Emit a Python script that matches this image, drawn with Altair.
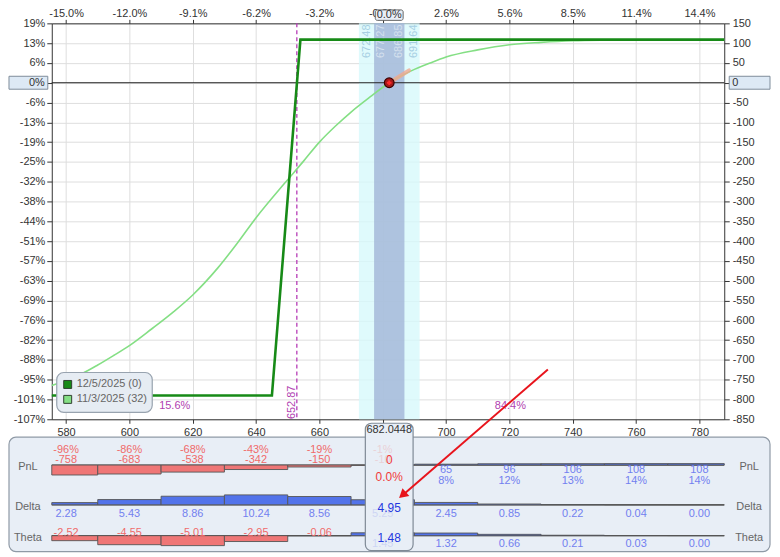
import altair as alt
import pandas as pd

# ---------------- chart values ----------------
spot = 682.0448
x_domain = [575.48, 787.85]
y_domain = [-850, 150]

x_ticks = [580, 600, 620, 640, 660, 680, 700, 720, 740, 760, 780]
bottom_labels = ["580", "600", "620", "640", "660", "680", "700", "720", "740", "760", "780"]
top_labels = ["-15.0%", "-12.0%", "-9.1%", "-6.2%", "-3.2%", "-0.3%",
              "2.6%", "5.6%", "8.5%", "11.4%", "14.4%"]
y_ticks = [150, 100, 50, 0, -50, -100, -150, -200, -250, -300, -350, -400,
           -450, -500, -550, -600, -650, -700, -750, -800, -850]
left_labels = ["19%", "13%", "6%", "0%", "-6%", "-13%", "-19%", "-25%", "-32%",
               "-38%", "-44%", "-51%", "-57%", "-63%", "-69%", "-76%", "-82%",
               "-88%", "-95%", "-101%", "-107%"]
right_labels = ["150", "100", "50", "0", "-50", "-100", "-150", "-200", "-250",
                "-300", "-350", "-400", "-450", "-500", "-550", "-600", "-650",
                "-700", "-750", "-800", "-850"]

series_names = ["12/5/2025 (0)", "11/3/2025 (32)"]
series_colors = ["#178a17", "#84df84"]

# expiration P&L (12/5/2025)
exp_price = [575.48, 645.0, 654.0, 787.85]
exp_pnl = [-790, -790, 109, 109]

# today's P&L (11/3/2025)
t0_price = [575.48, 580, 585, 590, 595, 600, 607, 614, 620, 628, 634, 640, 649,
            655, 660, 665, 670, 676, 682.0448, 689, 695, 700, 710, 720, 730,
            740, 750, 760, 770, 787.85]
t0_pnl = [-765, -752, -735, -713, -689, -664, -622, -578, -536, -467, -406, -341,
          -254, -198, -150, -110, -74, -36, 0, 30, 50, 65, 83, 96, 102, 106,
          107.5, 108, 108.5, 108.6]

# delta tangent at the current price
tan_price = [682.0448, 688.3]
tan_pnl = [0, 31]

# standard-deviation bands
sd_outer = [672.48, 691.64]
sd_inner = [677.27, 686.85]
sd_label_price = [672.48, 677.27, 686.85, 691.64]
sd_label_text = ["672.48", "677.27", "686.85", "691.64"]

breakeven = 652.87
breakeven_text = "652.87"
prob_price = [614.3, 720.3]
prob_text = ["15.6%", "84.4%"]

# bottom table
col_price = [580, 600, 620, 640, 660, 680, 700, 720, 740, 760, 780]
col_pnl = [-758, -683, -538, -342, -150, -10, 65, 96, 106, 108, 108]
col_pnl_pct = ["-96%", "-86%", "-68%", "-43%", "-19%", "-1%", "8%", "12%", "13%", "14%", "14%"]
col_delta = [2.28, 5.43, 8.86, 10.24, 8.56, 5.25, 2.45, 0.85, 0.22, 0.04, 0.00]
col_theta = [-2.52, -4.55, -5.01, -2.95, -0.06, 1.45, 1.32, 0.66, 0.21, 0.03, 0.00]
cur_pnl = "0"
cur_pnl_pct = "0.0%"
cur_delta = "4.95"
cur_theta = "1.48"
spot_text = "682.0448"
row_names = ["PnL", "Delta", "Theta"]

# ---------------- layout / style ----------------
FONT = "Liberation Sans"
W, H = 676, 398
XS = alt.Scale(domain=x_domain, nice=False, zero=False)
YS = alt.Scale(domain=y_domain, nice=False, zero=False)
RED_BAR, BLUE_BAR = "#ef7676", "#5273ea"
RED_TXT, BLUE_TXT = "#f06a6a", "#7280f0"
PANEL_FILL = "#e8eef6"
row_base = {"PnL": 444, "Delta": 484, "Theta": 515}
BAR_PX = 10
LEG = {"x0": 5, "x1": 101, "y0": 351, "y1": 391, "sym_x": 16, "txt_x": 25, "row_y": [363, 378]}


def arr_expr(labels, first, step, hide=None):
    arr = "[" + ",".join("'%s'" % s for s in labels) + "]"
    e = "%s[round((datum.value - (%s)) / (%s))]" % (arr, first, step)
    if hide is not None:
        e = "datum.value == %s ? '' : %s" % (hide, e)
    return e


common = dict(labelFont=FONT, labelFontSize=11, labelColor="#333",
              domainColor="#333", tickColor="#333", title=None)
# the 680 label sits under the spot-price tab, as in the original
ax_bottom = alt.Axis(orient="bottom", values=x_ticks,
                     labelExpr=arr_expr(bottom_labels, 580, 20, hide=680),
                     grid=True, gridColor="#dedede", tickSize=4, labelPadding=3, **common)
ax_top = alt.Axis(orient="top", values=x_ticks, labelExpr=arr_expr(top_labels, 580, 20),
                  grid=False, tickSize=4, labelPadding=1, **common)
ax_left = alt.Axis(orient="left", values=y_ticks, labelExpr=arr_expr(left_labels, 150, -50),
                   grid=True, gridColor="#dedede", tickSize=5, labelPadding=2, **common)
ax_right = alt.Axis(orient="right", values=y_ticks, labelExpr=arr_expr(right_labels, 150, -50),
                    grid=False, tickSize=5, labelPadding=3, **common)

layers = []

# bands (carry the four axes)
layers.append(alt.Chart(pd.DataFrame({"x0": [sd_outer[0]], "x1": [sd_outer[1]],
                                      "y0": [y_domain[1]], "y1": [y_domain[0]]}))
              .mark_rect(color="#d6f8fb", opacity=0.78)
              .encode(x=alt.X("x0:Q", scale=XS, axis=ax_bottom), x2="x1:Q",
                      y=alt.Y("y0:Q", scale=YS, axis=ax_left), y2="y1:Q"))
layers.append(alt.Chart(pd.DataFrame({"x0": [sd_inner[0]], "x1": [sd_inner[1]],
                                      "y0": [y_domain[1]], "y1": [y_domain[0]]}))
              .mark_rect(color="#a0b4d6", opacity=0.78)
              .encode(x=alt.X("x0:Q", scale=XS, axis=ax_top), x2="x1:Q",
                      y=alt.Y("y0:Q", scale=YS, axis=ax_right), y2="y1:Q"))

# band labels (rotated; dy shifts sideways on screen)
band_lab = pd.DataFrame({"x": sd_label_price, "t": sd_label_text,
                         "dy": [8, 7, -5, -6],
                         "c": ["#a6cfe3", "#d5e1ee", "#d5e1ee", "#a6cfe3"]})
for i in range(4):
    layers.append(alt.Chart(band_lab.iloc[[i]]).mark_text(
        angle=270, font=FONT, fontSize=11, align="center", baseline="middle",
        dy=int(band_lab.dy[i]), color=band_lab.c[i])
        .encode(x=alt.X("x:Q", scale=XS, axis=None), y=alt.value(18), text="t:N"))

# zero line
layers.append(alt.Chart(pd.DataFrame({"y": [0]})).mark_rule(color="#222", strokeWidth=1)
              .encode(y=alt.Y("y:Q", scale=YS, axis=None)))

# breakeven
layers.append(alt.Chart(pd.DataFrame({"x": [breakeven]}))
              .mark_rule(color="#b63cb6", strokeDash=[4, 3], strokeWidth=1.3)
              .encode(x=alt.X("x:Q", scale=XS, axis=None)))
layers.append(alt.Chart(pd.DataFrame({"x": [breakeven], "t": [breakeven_text]}))
              .mark_text(angle=270, font=FONT, fontSize=11, color="#b040b0", dy=-5,
                         align="center", baseline="middle")
              .encode(x=alt.X("x:Q", scale=XS, axis=None), y=alt.value(381), text="t:N"))
layers.append(alt.Chart(pd.DataFrame({"x": prob_price, "t": prob_text}))
              .mark_text(font=FONT, fontSize=11, color="#b040b0")
              .encode(x=alt.X("x:Q", scale=XS, axis=None), y=alt.value(385), text="t:N"))

# P&L lines
color_scale = alt.Scale(domain=series_names, range=series_colors)
t0_df = pd.DataFrame({"price": t0_price, "pnl": t0_pnl, "series": series_names[1]})
exp_df = pd.DataFrame({"price": exp_price, "pnl": exp_pnl, "series": series_names[0]})
layers.append(alt.Chart(t0_df).mark_line(strokeWidth=1.6, interpolate="monotone")
              .encode(x=alt.X("price:Q", scale=XS, axis=None),
                      y=alt.Y("pnl:Q", scale=YS, axis=None),
                      color=alt.Color("series:N", scale=color_scale, legend=None)))
layers.append(alt.Chart(exp_df).mark_line(strokeWidth=2.6)
              .encode(x=alt.X("price:Q", scale=XS, axis=None),
                      y=alt.Y("pnl:Q", scale=YS, axis=None),
                      color=alt.Color("series:N", scale=color_scale, legend=None)))

# tangent + current point
layers.append(alt.Chart(pd.DataFrame({"price": tan_price, "pnl": tan_pnl}))
              .mark_line(color="#f0a890", strokeWidth=4, opacity=0.8, strokeCap="round")
              .encode(x=alt.X("price:Q", scale=XS, axis=None),
                      y=alt.Y("pnl:Q", scale=YS, axis=None)))
layers.append(alt.Chart(pd.DataFrame({"price": [spot], "pnl": [0]}))
              .mark_point(filled=True, size=95, color="#a51818", stroke="#3a0000",
                          strokeWidth=1.2, opacity=1)
              .encode(x=alt.X("price:Q", scale=XS, axis=None),
                      y=alt.Y("pnl:Q", scale=YS, axis=None)))
layers.append(alt.Chart(pd.DataFrame({"price": [spot], "pnl": [0]}))
              .mark_point(shape="cross", filled=True, size=22, color="#ff2a2a", opacity=1)
              .encode(x=alt.X("price:Q", scale=XS, axis=None),
                      y=alt.Y("pnl:Q", scale=YS, axis=None)))

# legend box (series names / colours from the arrays)
layers.append(alt.Chart(pd.DataFrame({"a": [0]}))
              .mark_rect(fill="#e6ecf3", stroke="#98a3af", strokeWidth=1.2, cornerRadius=7,
                         opacity=1)
              .encode(x=alt.value(LEG["x0"]), x2=alt.value(LEG["x1"]),
                      y=alt.value(LEG["y0"]), y2=alt.value(LEG["y1"])))
leg_df = pd.DataFrame({"series": series_names, "y": LEG["row_y"]})
layers.append(alt.Chart(leg_df).mark_square(size=64, filled=True, opacity=1,
                                            stroke="#2f3f2f", strokeWidth=1)
              .encode(x=alt.value(LEG["sym_x"]), y=alt.Y("y:Q", scale=None, axis=None),
                      color=alt.Color("series:N", scale=color_scale, legend=None)))
layers.append(alt.Chart(leg_df).mark_text(font=FONT, fontSize=11, color="#666",
                                          align="left", baseline="middle")
              .encode(x=alt.value(LEG["txt_x"]), y=alt.Y("y:Q", scale=None, axis=None),
                      text="series:N"))

# highlighted zero / spot labels on the axes
zero_df = pd.DataFrame({"y": [0]})
layers.append(alt.Chart(zero_df).mark_rect(fill="#dde9f5", stroke="#7e8c9a", strokeWidth=1,
                                          yOffset=-6.5, y2Offset=6.5)
              .encode(x=alt.value(-43), x2=alt.value(-4),
                      y=alt.Y("y:Q", scale=YS, axis=None), y2="y:Q"))
layers.append(alt.Chart(zero_df.assign(t=left_labels[3])).mark_text(
    font=FONT, fontSize=11, color="#333", align="right", baseline="middle")
    .encode(x=alt.value(-7), y=alt.Y("y:Q", scale=YS, axis=None), text="t:N"))
layers.append(alt.Chart(zero_df).mark_rect(fill="#dde9f5", stroke="#7e8c9a", strokeWidth=1,
                                          yOffset=-6.5, y2Offset=6.5)
              .encode(x=alt.value(681), x2=alt.value(722),
                      y=alt.Y("y:Q", scale=YS, axis=None), y2="y:Q"))
layers.append(alt.Chart(zero_df.assign(t=right_labels[3])).mark_text(
    font=FONT, fontSize=11, color="#333", align="left", baseline="middle")
    .encode(x=alt.value(684), y=alt.Y("y:Q", scale=YS, axis=None), text="t:N"))
spot_df = pd.DataFrame({"x": [spot]})
layers.append(alt.Chart(spot_df).mark_rect(fill="#e8eef6", stroke="#666", strokeWidth=1,
                                          cornerRadius=2, xOffset=-14, x2Offset=14)
              .encode(x=alt.X("x:Q", scale=XS, axis=None), x2="x:Q",
                      y=alt.value(-13.5), y2=alt.value(-3)))
layers.append(alt.Chart(spot_df.assign(t="0.0%")).mark_text(
    font=FONT, fontSize=11, color="#333", baseline="middle")
    .encode(x=alt.X("x:Q", scale=XS, axis=None), y=alt.value(-8.5), text="t:N"))

# ---------------- bottom panel ----------------
one = pd.DataFrame({"a": [0]})
layers.append(alt.Chart(one).mark_rect(fill=PANEL_FILL, stroke="#8f9aa6", strokeWidth=1.2,
                                      cornerRadius=7)
              .encode(x=alt.value(-43), x2=alt.value(722), y=alt.value(416), y2=alt.value(531)))

base_df = pd.DataFrame({"x0": [x_domain[0]] * 3, "x1": [x_domain[1]] * 3,
                        "yb": [row_base[r] for r in row_names]})
layers.append(alt.Chart(base_df).mark_rule(color="#555", strokeWidth=1.3)
              .encode(x=alt.X("x0:Q", scale=XS, axis=None), x2="x1:Q",
                      y=alt.Y("yb:Q", scale=None, axis=None)))

bar_rows = []
row_vals = {"PnL": col_pnl, "Delta": col_delta, "Theta": col_theta}
for r in row_names:
    vals = row_vals[r]
    vmax = max(abs(v) for v in vals)
    for p, v in zip(col_price, vals):
        bar_rows.append({"x0": max(p - 10, x_domain[0]), "x1": min(p + 10, x_domain[1]),
                         "v": v, "yb": row_base[r], "yt": row_base[r] - v / vmax * BAR_PX})
bars = pd.DataFrame(bar_rows)
layers.append(alt.Chart(bars).mark_rect(stroke="#555", strokeWidth=0.9)
              .encode(x=alt.X("x0:Q", scale=XS, axis=None), x2="x1:Q",
                      y=alt.Y("yt:Q", scale=None, axis=None), y2="yb:Q",
                      fill=alt.condition("datum.v < 0", alt.value(RED_BAR), alt.value(BLUE_BAR))))

lab_rows = []
for i, p in enumerate(col_price):
    v = col_pnl[i]
    b = row_base["PnL"]
    c = RED_TXT if v < 0 else BLUE_TXT
    if v < 0:
        lab_rows.append({"x": p, "y": b - 15, "t": col_pnl_pct[i], "c": c, "cur": p == 680})
        lab_rows.append({"x": p, "y": b - 5, "t": str(v), "c": c, "cur": p == 680})
    else:
        lab_rows.append({"x": p, "y": b + 5, "t": str(v), "c": c, "cur": p == 680})
        lab_rows.append({"x": p, "y": b + 16, "t": col_pnl_pct[i], "c": c, "cur": p == 680})
    d = col_delta[i]
    lab_rows.append({"x": p, "y": row_base["Delta"] + 9, "t": "%.2f" % d,
                     "c": RED_TXT if d < 0 else BLUE_TXT, "cur": p == 680})
    th = col_theta[i]
    lab_rows.append({"x": p, "y": row_base["Theta"] + (-3 if th < 0 else 8), "t": "%.2f" % th,
                     "c": RED_TXT if th < 0 else BLUE_TXT, "cur": p == 680})
labs = pd.DataFrame(lab_rows)
layers.append(alt.Chart(labs[~labs.cur]).mark_text(font=FONT, fontSize=11, baseline="middle")
              .encode(x=alt.X("x:Q", scale=XS, axis=None),
                      y=alt.Y("y:Q", scale=None, axis=None), text="t:N",
                      color=alt.Color("c:N", scale=None)))

name_df = pd.DataFrame({"t": row_names, "y": [row_base[r] + 2 for r in row_names]})
layers.append(alt.Chart(name_df).mark_text(font=FONT, fontSize=11, color="#666", baseline="middle")
              .encode(x=alt.value(-24), y=alt.Y("y:Q", scale=None, axis=None), text="t:N"))
layers.append(alt.Chart(name_df).mark_text(font=FONT, fontSize=11, color="#666", baseline="middle")
              .encode(x=alt.value(701), y=alt.Y("y:Q", scale=None, axis=None), text="t:N"))

# current price column
layers.append(alt.Chart(spot_df).mark_rect(fill=PANEL_FILL, stroke="#7f8a96", strokeWidth=1.2,
                                          cornerRadius=6, xOffset=-24, x2Offset=24)
              .encode(x=alt.X("x:Q", scale=XS, axis=None), x2="x:Q",
                      y=alt.value(402), y2=alt.value(530)))
layers.append(alt.Chart(labs[labs.cur]).mark_text(font=FONT, fontSize=11, baseline="middle",
                                                  opacity=0.22)
              .encode(x=alt.X("x:Q", scale=XS, axis=None),
                      y=alt.Y("y:Q", scale=None, axis=None), text="t:N",
                      color=alt.Color("c:N", scale=None)))
cur_df = pd.DataFrame({"x": [spot] * 5,
                       "y": [409, row_base["PnL"] - 5, row_base["PnL"] + 12,
                             row_base["Delta"] + 3, row_base["Theta"] + 2],
                       "t": [spot_text, cur_pnl, cur_pnl_pct, cur_delta, cur_theta],
                       "c": ["#333", "#f03a3a", "#f03a3a", "#2438e0", "#2438e0"],
                       "s": [11, 12, 12, 12, 12]})
layers.append(alt.Chart(cur_df).mark_text(font=FONT, baseline="middle")
              .encode(x=alt.X("x:Q", scale=XS, axis=None),
                      y=alt.Y("y:Q", scale=None, axis=None), text="t:N",
                      color=alt.Color("c:N", scale=None),
                      size=alt.Size("s:Q", scale=None)))

# red annotation arrow
layers.append(alt.Chart(pd.DataFrame({"x": [732.15], "x2": [686.9], "y": [348], "y2": [472.5]}))
              .mark_rule(color="#e8141c", strokeWidth=2)
              .encode(x=alt.X("x:Q", scale=XS, axis=None), x2="x2:Q",
                      y=alt.Y("y:Q", scale=None, axis=None), y2="y2:Q"))
layers.append(alt.Chart(pd.DataFrame({"x": [686.6], "y": [473.2]}))
              .mark_point(shape="triangle", filled=True, size=110, angle=229,
                          color="#e8141c", opacity=1)
              .encode(x=alt.X("x:Q", scale=XS, axis=None),
                      y=alt.Y("y:Q", scale=None, axis=None)))

chart = (alt.layer(*layers)
         .resolve_scale(x="shared", y="shared")
         .resolve_axis(x="independent", y="independent")
         .properties(width=W, height=H, autosize=alt.AutoSizeParams(type="none"),
                     padding={"left": 44, "top": 14, "right": 48, "bottom": 134},
                     background="white")
         .configure_view(stroke=None))

chart.save("out.html", embed_options={"renderer": "svg", "actions": False})
